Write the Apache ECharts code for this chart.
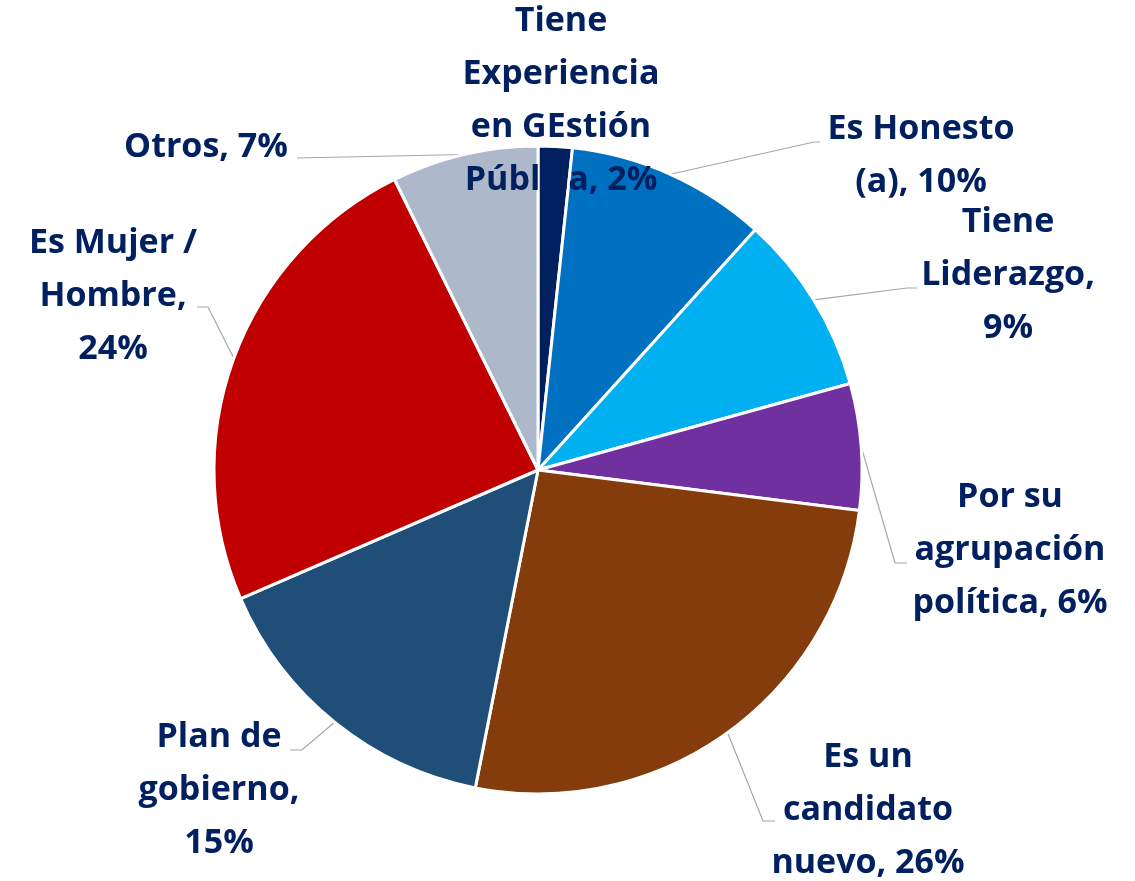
<!DOCTYPE html>
<html>
<head>
<meta charset="utf-8">
<script src="https://cdn.jsdelivr.net/npm/echarts@6/dist/echarts.min.js"></script>
<style>
  html, body { margin: 0; padding: 0; background: #fff; }
  #main { width: 1135px; height: 881px; }
</style>
</head>
<body>
<div id="main"></div>
<script>
// categorias (con saltos de linea como en la grafica original)
const categories = [
  'Tiene\nExperiencia\nen GEstión\nPública',
  'Es Honesto\n(a)',
  'Tiene\nLiderazgo',
  'Por su\nagrupación\npolítica',
  'Es un\ncandidato\nnuevo',
  'Plan de\ngobierno',
  'Es Mujer /\nHombre',
  'Otros'
]
const values = [1.7, 10.0, 9.0, 6.3, 26.1, 15.4, 24.2, 7.3]
// el valor va en una linea aparte
const breakBeforeValue = [false, false, true, false, false, true, true, false]
const colors = ['#002060', '#0070C0', '#00B0F0', '#7030A0', '#843C0C', '#1F4E79', '#C00000', '#ADB9CA']

// posicion de las etiquetas (centro del bloque) y codo de la linea guia
const labelPos = [[561, 101], [921, 156], [1008, 275], [1010, 550], [868, 810], [219, 790], [113, 296], [206, 147]]
const lineElbow = [null, [814, 142], [907, 288], [895, 563], [763, 821], [302, 750], [208, 307], [297, 158]]
const lineEnd = [null, [820, 142], [917, 288], [907, 563], [775, 821], [290, 750], [197, 307], [297, 158]]

const chart = echarts.init(document.getElementById('main'))

const seriesData = categories.map((name, i) => ({
  name,
  value: values[i],
  itemStyle: { color: colors[i] },
  labelLine: { show: lineElbow[i] !== null }
}))

chart.setOption({
  animation: false,
  series: [{
    type: 'pie',
    center: [538, 470],
    radius: 324,
    startAngle: 90,
    clockwise: true,
    avoidLabelOverlap: false,
    itemStyle: { borderColor: '#fff', borderWidth: 3 },
    label: {
      show: true,
      position: 'outside',
      color: '#002060',
      fontFamily: 'Open Sans',
      fontWeight: 'bold',
      fontSize: 34,
      lineHeight: 53,
      align: 'center',
      formatter: p => p.name + (breakBeforeValue[p.dataIndex] ? ',\n' : ', ') + Math.round(p.value) + '%'
    },
    labelLine: {
      show: true,
      lineStyle: { color: '#A6A6A6', width: 1.2 }
    },
    labelLayout: params => {
      const i = params.dataIndex
      const out = { x: labelPos[i][0], y: labelPos[i][1], align: 'center', verticalAlign: 'middle' }
      if (lineElbow[i] && params.labelLinePoints) {
        out.labelLinePoints = [params.labelLinePoints[0], lineElbow[i], lineEnd[i]]
      }
      return out
    },
    data: seriesData
  }]
})
</script>
</body>
</html>
